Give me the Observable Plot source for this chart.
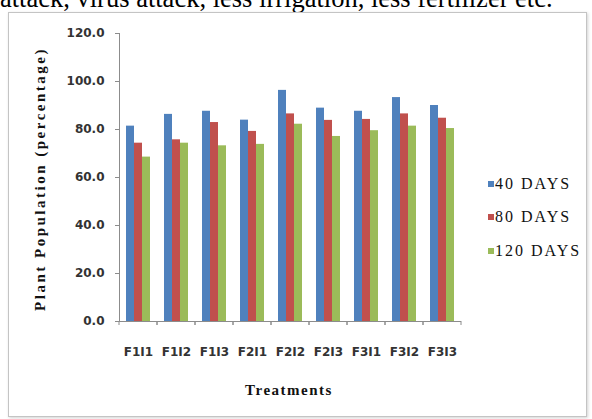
<!DOCTYPE html>
<html>
<head>
<meta charset="utf-8">
<script src="https://cdn.jsdelivr.net/npm/d3@7"></script>
<script src="https://cdn.jsdelivr.net/npm/@observablehq/plot@0.6"></script>
<style>
  body { margin: 0; background: #fff; width: 592px; height: 419px; overflow: hidden; position: relative; font-family: "Liberation Serif", "Times New Roman", serif; }
  #lead { position: absolute; left: 0; top: -15px; font-size: 26.5px; line-height: 1; white-space: nowrap; color: #000; }
  #box { position: absolute; left: 8px; top: 12px; width: 577px; height: 403px; border: 1px solid #c4c4c4; box-shadow: 1px 1px 3px rgba(0,0,0,0.18); background: #fff; }
  #chart { position: absolute; left: 0; top: 0; }
  #chart g[aria-label="y-axis tick label"] text,
  #chart g[aria-label="fx-axis tick label"] text { font-family: "DejaVu Sans", sans-serif; font-weight: bold; font-size: 12px; fill: #333; }
  .ytitle { position: absolute; left: 40px; top: 179px; transform: translate(-50%, -50%) rotate(-90deg); white-space: nowrap; font-weight: bold; font-size: 15px; letter-spacing: 2.5px; color: #111; }
  .xtitle { position: absolute; left: 289px; top: 390px; transform: translate(-50%, -50%); white-space: nowrap; font-weight: bold; font-size: 15px; letter-spacing: 1.5px; color: #111; }
  .legend { position: absolute; left: 488px; top: 0; }
  .item { position: absolute; left: 0; white-space: nowrap; font-size: 16px; letter-spacing: 2px; color: #111; transform: translateY(-50%); display: flex; align-items: center; }
  .swatch { width: 6px; height: 6px; margin-right: 1px; display: inline-block; }
</style>
</head>
<body>
<div id="lead">attack, virus attack, less irrigation, less fertilizer etc.</div>
<div id="box"></div>
<div id="chart"></div>
<div class="ytitle">Plant Population (percentage)</div>
<div class="xtitle">Treatments</div>
<div class="legend" id="legend"></div>
<script>
// Treatment combinations (fertilizer level × irrigation level)
const treatments = ["F1I1", "F1I2", "F1I3", "F2I1", "F2I2", "F2I3", "F3I1", "F3I2", "F3I3"];
const seriesNames = ["40 DAYS", "80 DAYS", "120 DAYS"];

// Plant population (%) at each observation date
const days40  = [81.4, 86.3, 87.6, 83.9, 96.3, 88.9, 87.6, 93.3, 90.0];
const days80  = [74.3, 75.7, 82.9, 79.2, 86.5, 83.8, 84.2, 86.5, 84.7];
const days120 = [68.5, 74.3, 73.2, 73.8, 82.2, 77.1, 79.5, 81.4, 80.4];

const yTicks = [0, 20, 40, 60, 80, 100, 120];
const colors = ["#4F81BD", "#C0504D", "#9BBB59"];

const seriesValues = [days40, days80, days120];
const rows = treatments.flatMap((t, i) =>
  seriesValues.map((vals, j) => ({treatment: t, series: seriesNames[j], value: vals[i]}))
);

// Small outward ticks at the edges of each treatment group on the category axis
function groupTicks(index, scales) {
  try {
    const x = scales.x, y = scales.y;
    const [a, b] = x.range();
    const y0 = y(0);
    const g = d3.create("svg:g").attr("stroke", "#8c8c8c");
    for (const px of [a, b]) {
      g.append("line").attr("x1", px).attr("x2", px).attr("y1", y0).attr("y2", y0 + 4);
    }
    return g.node();
  } catch (e) {
    return null;
  }
}

const chart = Plot.plot({
  width: 480,
  height: 419,
  marginLeft: 115,
  marginRight: 15,
  marginTop: 33,
  marginBottom: 98,
  style: {background: "transparent", overflow: "visible", color: "#8c8c8c"},
  facet: {data: rows, x: "treatment"},
  fx: {domain: treatments, padding: 0, label: null, tickSize: 0, tickPadding: 26},
  x: {domain: seriesNames, paddingInner: 0, paddingOuter: 0.75, axis: null},
  y: {domain: [0, 120], ticks: yTicks, tickFormat: d => d.toFixed(1), label: null, tickSize: 4, tickPadding: 11, line: true},
  color: {domain: seriesNames, range: colors},
  marks: [
    Plot.barY(rows, {x: "series", y: "value", fill: "series"}),
    Plot.ruleY([0], {stroke: "#8c8c8c"}),
    groupTicks
  ]
});
document.getElementById("chart").appendChild(chart);

// Legend entries to the right of the plot
const legendY = [184, 217, 251];
const legend = document.getElementById("legend");
seriesNames.forEach((name, i) => {
  const item = document.createElement("div");
  item.className = "item";
  item.style.top = legendY[i] + "px";
  const sw = document.createElement("span");
  sw.className = "swatch";
  sw.style.background = colors[i];
  item.appendChild(sw);
  item.appendChild(document.createTextNode(name));
  legend.appendChild(item);
});
</script>
</body>
</html>
